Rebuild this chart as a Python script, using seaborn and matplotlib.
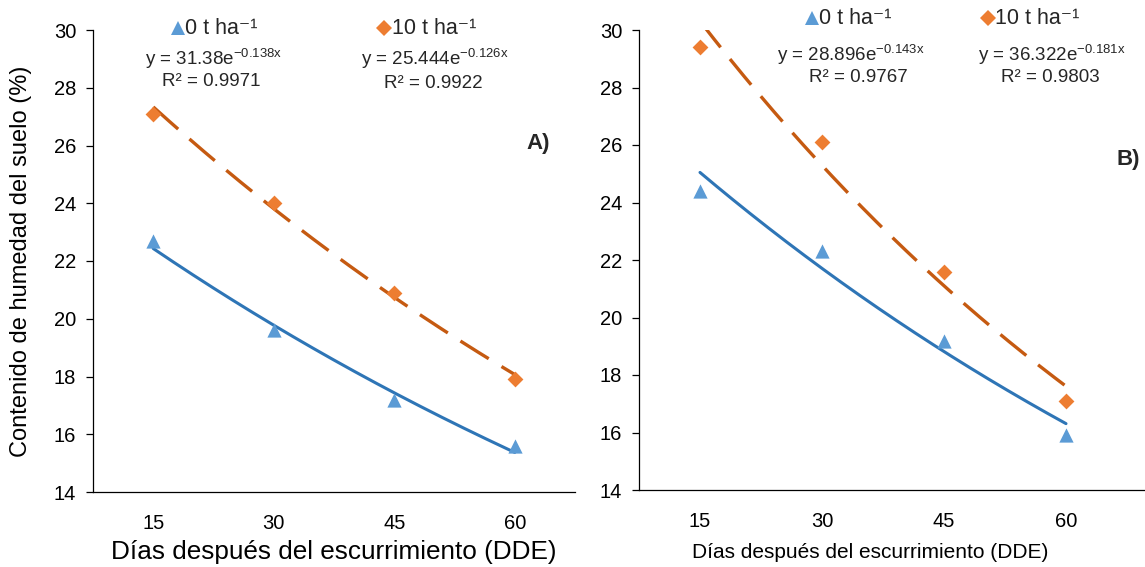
import numpy as np
import pandas as pd
import matplotlib
matplotlib.use("Agg")
import matplotlib.pyplot as plt
import seaborn as sns
from matplotlib.lines import Line2D

sns.set_theme(style="white")
plt.rcParams['font.family'] = ['Liberation Sans', 'DejaVu Sans']
plt.rcParams['mathtext.fontset'] = 'custom'
plt.rcParams['mathtext.rm'] = 'Liberation Sans'
plt.rcParams['mathtext.it'] = 'Liberation Sans'

# ---- data ----
categories = ["15", "30", "45", "60"]
series_names = ["0 t ha\u207b\u00b9", "10 t ha\u207b\u00b9"]

a_0t = [22.7, 19.6, 17.2, 15.6]
a_10t = [27.1, 24.0, 20.9, 17.9]
b_0t = [24.4, 22.3, 19.2, 15.9]
b_10t = [29.4, 26.1, 21.6, 17.1]

# trend line coefficients  y = a * exp(b * x), x = category index (1..4)
a_trend_0t = (25.444, -0.126)
a_trend_10t = (31.38, -0.138)
b_trend_0t = (28.896, -0.143)
b_trend_10t = (36.322, -0.181)

a_eq_texts = [("31.38", "-0.138x", "0.9971"), ("25.444", "-0.126x", "0.9922")]
b_eq_texts = [("28.896", "-0.143x", "0.9767"), ("36.322", "-0.181x", "0.9803")]

BLUE_M = "#5B9BD5"
BLUE_L = "#2E75B6"
ORANGE_M = "#ED7D31"
ORANGE_L = "#C55A11"

TICK_FS = 14.5
YLAB_FS = 17
LEG_FS = 15.5
EQ_FS = 13.5

W, H = 1145, 567
fig = plt.figure(figsize=(W / 100, H / 100), dpi=100)


def fax(x0, y_top, x1, y_bot):
    return fig.add_axes([x0 / W, 1 - y_bot / H, (x1 - x0) / W, (y_bot - y_top) / H])


def draw_panel(ax, s0, s10, t0, t10, xmax, minor, xlab_fs, xlab_pad):
    pos = np.arange(1, len(categories) + 1)
    xs = np.linspace(1, len(categories), 200)
    df_t = pd.DataFrame({"x": xs,
                         "y0": t0[0] * np.exp(t0[1] * xs),
                         "y10": t10[0] * np.exp(t10[1] * xs)})
    sns.lineplot(data=df_t, x="x", y="y0", ax=ax, color=BLUE_L, lw=2.2)
    sns.lineplot(data=df_t, x="x", y="y10", ax=ax, color=ORANGE_L, lw=2.4)
    ax.lines[-1].set_dashes([10, 4.5])
    df = pd.DataFrame({"x": pos, "y0": s0, "y10": s10})
    sns.scatterplot(data=df, x="x", y="y0", ax=ax, marker="^", color=BLUE_M,
                    s=105, edgecolor=BLUE_M, linewidth=0, zorder=5)
    sns.scatterplot(data=df, x="x", y="y10", ax=ax, marker="D", color=ORANGE_M,
                    s=65, edgecolor=ORANGE_M, linewidth=0, zorder=5)
    ax.set_xlim(0.5, xmax)
    ax.set_ylim(14, 30)
    ax.set_yticks(np.arange(14, 31, 2))
    ax.set_xticks(pos)
    ax.set_xticklabels(categories)
    ax.set_xticks(minor, minor=True)
    ax.tick_params(axis="x", which="major", length=0, pad=16, labelsize=TICK_FS, colors="black")
    ax.tick_params(axis="x", which="minor", length=5, direction="in", width=0.9, color="black")
    ax.tick_params(axis="y", which="major", length=5, direction="out", width=0.9,
                   labelsize=TICK_FS, colors="black", pad=7, left=True)
    for side in ["top", "right"]:
        ax.spines[side].set_visible(False)
    for side in ["left", "bottom"]:
        ax.spines[side].set_color("black")
        ax.spines[side].set_linewidth(0.9)
    ax.set_xlabel("Días después del escurrimiento (DDE)", fontsize=xlab_fs, color="black",
                  labelpad=xlab_pad)
    ax.set_ylabel("")


axA = fax(93, 30, 575, 492)
draw_panel(axA, a_0t, a_10t, a_trend_0t, a_trend_10t, 4.5, [1.5, 2.5, 3.5, 4.5], 18.8, 5)
axA.set_ylabel("Contenido de humedad del suelo (%)", fontsize=YLAB_FS, color="black", labelpad=16)

axB = fax(639, 30, 1145, 490)
draw_panel(axB, b_0t, b_10t, b_trend_0t, b_trend_10t, 0.5 + (1145 - 639) / 122,
           [1.5, 2.5, 3.5], 15, 11)
axB.xaxis.set_label_coords((870 - 639) / (1145 - 639), -(553 - 490) / (490 - 30))
axB.xaxis.label.set_va("center")

# panel letters
fig.text(538 / W, 1 - 143 / H, "A)", fontsize=16, fontweight="bold", ha="center", va="center")
fig.text(1116 / W, 1 - 160 / H, "B)", fontsize=16, fontweight="bold", ha="left", va="center")


def legend_item(xm, xt, y, marker, color, label, ms):
    fig.add_artist(Line2D([xm / W], [1 - y / H], marker=marker, color=color, ms=ms,
                          mew=0, linestyle="none", transform=fig.transFigure))
    fig.text(xt / W, 1 - y / H, label, fontsize=LEG_FS, ha="left", va="center")


legend_item(178, 185, 28, "^", BLUE_M, series_names[0], 9.5)
legend_item(384, 392, 28, "D", ORANGE_M, series_names[1], 8)
legend_item(812, 819, 18, "^", BLUE_M, series_names[0], 9.5)
legend_item(988, 995, 18, "D", ORANGE_M, series_names[1], 8)


def eq_text(x_left, y_eq, x_r2, y_r2, coef, expo, r2):
    fig.text(x_left / W, 1 - y_eq / H, "y = " + coef + "e$^{\\mathrm{" + expo + "}}$",
             fontsize=EQ_FS, ha="left", va="center")
    fig.text(x_r2 / W, 1 - y_r2 / H, "R\u00b2 = " + r2, fontsize=EQ_FS, ha="left", va="center")


eq_text(145, 59, 162, 82, *a_eq_texts[0])
eq_text(361, 59, 384, 83, *a_eq_texts[1])
eq_text(777, 55, 809, 78, *b_eq_texts[0])
eq_text(978, 55, 1001, 78, *b_eq_texts[1])

fig.savefig("out.png", dpi=100)
